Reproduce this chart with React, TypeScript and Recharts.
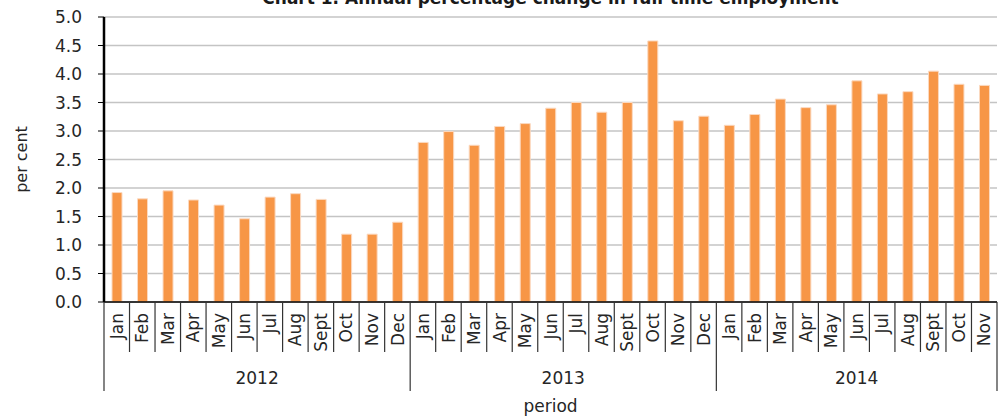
import { Bar, BarChart, CartesianGrid, XAxis, YAxis } from "recharts";

const monthNames = ["Jan", "Feb", "Mar", "Apr", "May", "Jun", "Jul", "Aug", "Sept", "Oct", "Nov", "Dec"];
const years = ["2012", "2013", "2014"];
const monthsPerYear = [12, 12, 11];

const change2012 = [1.92, 1.81, 1.95, 1.79, 1.7, 1.46, 1.84, 1.9, 1.8, 1.19, 1.19, 1.4];
const change2013 = [2.8, 2.99, 2.75, 3.08, 3.13, 3.4, 3.5, 3.33, 3.5, 4.58, 3.18, 3.26];
const change2014 = [3.1, 3.29, 3.56, 3.41, 3.46, 3.88, 3.65, 3.69, 4.05, 3.82, 3.8];

const yTicks = [0, 0.5, 1, 1.5, 2, 2.5, 3, 3.5, 4, 4.5, 5];

const allValues = [change2012, change2013, change2014];
const data = years.flatMap((year, yi) =>
  allValues[yi].slice(0, monthsPerYear[yi]).map((v, mi) => ({
    month: monthNames[mi],
    year,
    value: v,
  }))
);

const W = 998;
const H = 416;
const LEFT = 104;
const RIGHT = 1;
const TOP = 17;
const XAXIS_H = 114;
const BAND = (W - LEFT - RIGHT) / data.length;

const FONT = "'DejaVu Sans', sans-serif";
const TEXT = "#262626";

function MonthTick(props: any) {
  const { x, y, payload } = props;
  const i: number = props.index ?? payload.index;
  const row = data[i];
  if (!row) return null;
  const left = x - BAND / 2;
  const first = i === 0 || data[i - 1].year !== row.year;
  const lastAll = i === data.length - 1;
  let count = 0;
  if (first) {
    for (let k = i; k < data.length && data[k].year === row.year; k++) count++;
  }
  return (
    <g>
      <line x1={left} x2={left} y1={y} y2={first ? y + 89 : y + 50} stroke="#333" strokeWidth={1.2} />
      {lastAll && (
        <line x1={x + BAND / 2} x2={x + BAND / 2} y1={y} y2={y + 89} stroke="#333" strokeWidth={1.2} />
      )}
      <text
        x={x}
        y={y + 11}
        dy="0.36em"
        transform={`rotate(-90 ${x} ${y + 11})`}
        textAnchor="end"
        fontFamily={FONT}
        fontSize={17}
        fill={TEXT}
      >
        {row.month}
      </text>
      {first && (
        <text
          x={left + (count * BAND) / 2}
          y={y + 82}
          textAnchor="middle"
          fontFamily={FONT}
          fontSize={17}
          fill={TEXT}
        >
          {row.year}
        </text>
      )}
    </g>
  );
}

export default function App() {
  return (
    <div style={{ position: "absolute", left: 0, top: 0, width: W, height: H, background: "#fff" }}>
      <BarChart
        width={W}
        height={H}
        data={data}
        margin={{ top: TOP, right: RIGHT, bottom: 0, left: 0 }}
        barCategoryGap={0}
      >
        <CartesianGrid vertical={false} stroke="#c4c4c4" strokeWidth={1.5} />
        <YAxis
          width={LEFT}
          domain={[0, 5]}
          ticks={yTicks}
          interval={0}
          tickFormatter={(v: number) => v.toFixed(1)}
          axisLine={{ stroke: "#000", strokeWidth: 2.5 }}
          tickLine={{ stroke: "#000" }}
          tickSize={6}
          tickMargin={16}
          tick={{ fontFamily: FONT, fontSize: 17, fill: TEXT }}
          label={{
            content: () => {
              const cx = 21;
              const cy = TOP + (H - XAXIS_H - TOP) / 2;
              return (
                <text
                  x={cx}
                  y={cy}
                  dy="0.36em"
                  transform={`rotate(-90 ${cx} ${cy})`}
                  textAnchor="middle"
                  fontFamily={FONT}
                  fontSize={16}
                  fill={TEXT}
                >
                  per cent
                </text>
              );
            },
          }}
        />
        <XAxis
          dataKey="month"
          height={XAXIS_H}
          interval={0}
          tickSize={0}
          tickMargin={0}
          tickLine={false}
          axisLine={{ stroke: "#000", strokeWidth: 1.5 }}
          tick={<MonthTick />}
          label={{
            content: () => (
              <text
                x={LEFT + (W - LEFT - RIGHT) / 2}
                y={H - 4}
                textAnchor="middle"
                fontFamily={FONT}
                fontSize={17}
                fill={TEXT}
              >
                period
              </text>
            ),
          }}
        />
        <Bar dataKey="value" fill="#F79646" stroke="#fbd9c0" strokeWidth={1} barSize={10} isAnimationActive={false} />
      </BarChart>
      <svg
        width={W}
        height={20}
        style={{ position: "absolute", left: 0, top: 0, pointerEvents: "none" }}
      >
        <text
          x={LEFT + (W - LEFT - RIGHT) / 2}
          y={4}
          textAnchor="middle"
          fontFamily={FONT}
          fontWeight="bold"
          fontSize={17}
          fill="#1a1a1a"
        >
          Chart 1. Annual percentage change in full-time employment
        </text>
      </svg>
    </div>
  );
}
